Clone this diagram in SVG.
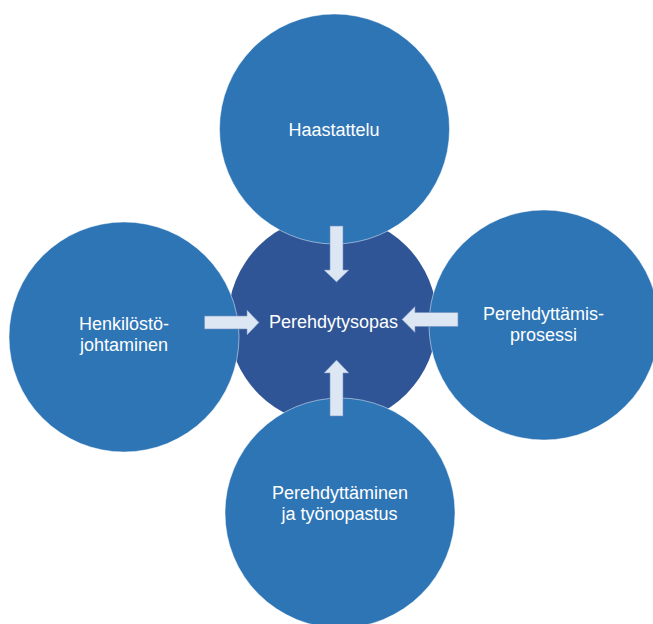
<svg xmlns="http://www.w3.org/2000/svg" width="653" height="624" viewBox="0 0 653 624">
  <style>
    .hub { fill: #2f5597; }
    .topic { fill: #2e75b6; stroke: #ffffff; stroke-opacity: 0.6; stroke-width: 0.8; }
    .arrow { fill: #dde7f4; stroke: #6f8fc0; stroke-width: 0.6; stroke-linejoin: miter; }
    .label { font-family: "Liberation Sans", Arial, sans-serif; font-size: 18px; fill: #ffffff; text-anchor: middle; }
  </style>
  <rect width="653" height="624" fill="#ffffff"/>

  <g id="hub">
    <circle class="hub" cx="332.5" cy="320" r="104.5"/>
    <text class="label" x="333.5" y="328">Perehdytysopas</text>
  </g>

  <g id="node-haastattelu">
    <circle class="topic" cx="334.5" cy="129" r="115"/>
    <text class="label" x="334" y="136">Haastattelu</text>
  </g>

  <g id="node-perehdyttamisprosessi">
    <circle class="topic" cx="544" cy="325" r="115"/>
    <text class="label" x="543.5" y="320">Perehdyttämis-</text>
    <text class="label" x="543.5" y="341">prosessi</text>
  </g>

  <g id="node-perehdyttaminen">
    <circle class="topic" cx="340" cy="513" r="115"/>
    <text class="label" x="340" y="499">Perehdyttäminen</text>
    <text class="label" x="339.5" y="520">ja työnopastus</text>
  </g>

  <g id="node-henkilostojohtaminen">
    <circle class="topic" cx="124" cy="337" r="115"/>
    <text class="label" x="124" y="330">Henkilöstö-</text>
    <text class="label" x="124" y="351">johtaminen</text>
  </g>

  <g id="connectors">
    <!-- down from Haastattelu -->
    <path class="arrow" d="M330,226 H343 V270 H349 L336.5,282 L324,270 H330 Z"/>
    <!-- right from Henkilöstöjohtaminen -->
    <path class="arrow" d="M204.5,316 H247 V310 L259,322.5 L247,335 V329 H204.5 Z"/>
    <!-- left from Perehdyttämisprosessi -->
    <path class="arrow" d="M458,312.5 H415 V306.5 L402,319.5 L415,332.5 V326.5 H458 Z"/>
    <!-- up from Perehdyttäminen -->
    <path class="arrow" d="M330,416 H343 V373 H349 L336.5,360 L324,373 H330 Z"/>
  </g>
</svg>
